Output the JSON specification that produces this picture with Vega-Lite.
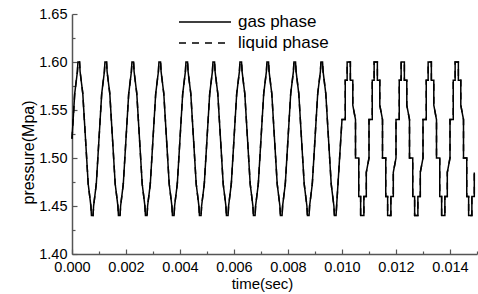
{
  "$schema": "https://vega.github.io/schema/vega-lite/v6.json",
  "width": 405,
  "height": 240,
  "autosize": {"type": "none"},
  "padding": {"left": 72, "top": 14, "right": 1, "bottom": 40},
  "background": "white",
  "config": {
    "view": {"stroke": null},
    "font": "Liberation Sans",
    "axis": {
      "grid": false,
      "domainColor": "#555555",
      "domainWidth": 1.5,
      "tickColor": "#555555",
      "tickWidth": 1.2,
      "labelFont": "Liberation Sans",
      "labelFontSize": 14.5,
      "labelColor": "black",
      "labelOverlap": false,
      "labelFlush": false,
      "titleFont": "Liberation Sans",
      "titleFontSize": 15,
      "titleFontWeight": "normal",
      "titleColor": "black"
    }
  },
  "data": {
    "values": [
      {"t":0,"p":1.52},{"t":0.0001,"p":1.567},{"t":0.0002,"p":1.59},{"t":0.00022,"p":1.6},{"t":0.00028,"p":1.6},{"t":0.0003,"p":1.59},{"t":0.0004,"p":1.567},{"t":0.0005,"p":1.52},{"t":0.0006,"p":1.473},{"t":0.0007,"p":1.45},{"t":0.00072,"p":1.44},{"t":0.00078,"p":1.44},{"t":0.0008,"p":1.45},{"t":0.0009,"p":1.473},
      {"t":0.001,"p":1.52},{"t":0.0011,"p":1.567},{"t":0.0012,"p":1.59},{"t":0.00122,"p":1.6},{"t":0.00128,"p":1.6},{"t":0.0013,"p":1.59},{"t":0.0014,"p":1.567},{"t":0.0015,"p":1.52},{"t":0.0016,"p":1.473},{"t":0.0017,"p":1.45},{"t":0.00172,"p":1.44},{"t":0.00178,"p":1.44},{"t":0.0018,"p":1.45},{"t":0.0019,"p":1.473},
      {"t":0.002,"p":1.52},{"t":0.0021,"p":1.567},{"t":0.0022,"p":1.59},{"t":0.00222,"p":1.6},{"t":0.00228,"p":1.6},{"t":0.0023,"p":1.59},{"t":0.0024,"p":1.567},{"t":0.0025,"p":1.52},{"t":0.0026,"p":1.473},{"t":0.0027,"p":1.45},{"t":0.00272,"p":1.44},{"t":0.00278,"p":1.44},{"t":0.0028,"p":1.45},{"t":0.0029,"p":1.473},
      {"t":0.003,"p":1.52},{"t":0.0031,"p":1.567},{"t":0.0032,"p":1.59},{"t":0.00322,"p":1.6},{"t":0.00328,"p":1.6},{"t":0.0033,"p":1.59},{"t":0.0034,"p":1.567},{"t":0.0035,"p":1.52},{"t":0.0036,"p":1.473},{"t":0.0037,"p":1.45},{"t":0.00372,"p":1.44},{"t":0.00378,"p":1.44},{"t":0.0038,"p":1.45},{"t":0.0039,"p":1.473},
      {"t":0.004,"p":1.52},{"t":0.0041,"p":1.567},{"t":0.0042,"p":1.59},{"t":0.00422,"p":1.6},{"t":0.00428,"p":1.6},{"t":0.0043,"p":1.59},{"t":0.0044,"p":1.567},{"t":0.0045,"p":1.52},{"t":0.0046,"p":1.473},{"t":0.0047,"p":1.45},{"t":0.00472,"p":1.44},{"t":0.00478,"p":1.44},{"t":0.0048,"p":1.45},{"t":0.0049,"p":1.473},
      {"t":0.005,"p":1.52},{"t":0.0051,"p":1.567},{"t":0.0052,"p":1.59},{"t":0.00522,"p":1.6},{"t":0.00528,"p":1.6},{"t":0.0053,"p":1.59},{"t":0.0054,"p":1.567},{"t":0.0055,"p":1.52},{"t":0.0056,"p":1.473},{"t":0.0057,"p":1.45},{"t":0.00572,"p":1.44},{"t":0.00578,"p":1.44},{"t":0.0058,"p":1.45},{"t":0.0059,"p":1.473},
      {"t":0.006,"p":1.52},{"t":0.0061,"p":1.567},{"t":0.0062,"p":1.59},{"t":0.00622,"p":1.6},{"t":0.00628,"p":1.6},{"t":0.0063,"p":1.59},{"t":0.0064,"p":1.567},{"t":0.0065,"p":1.52},{"t":0.0066,"p":1.473},{"t":0.0067,"p":1.45},{"t":0.00672,"p":1.44},{"t":0.00678,"p":1.44},{"t":0.0068,"p":1.45},{"t":0.0069,"p":1.473},
      {"t":0.007,"p":1.52},{"t":0.0071,"p":1.567},{"t":0.0072,"p":1.59},{"t":0.00722,"p":1.6},{"t":0.00728,"p":1.6},{"t":0.0073,"p":1.59},{"t":0.0074,"p":1.567},{"t":0.0075,"p":1.52},{"t":0.0076,"p":1.473},{"t":0.0077,"p":1.45},{"t":0.00772,"p":1.44},{"t":0.00778,"p":1.44},{"t":0.0078,"p":1.45},{"t":0.0079,"p":1.473},
      {"t":0.008,"p":1.52},{"t":0.0081,"p":1.567},{"t":0.0082,"p":1.59},{"t":0.00822,"p":1.6},{"t":0.00828,"p":1.6},{"t":0.0083,"p":1.59},{"t":0.0084,"p":1.567},{"t":0.0085,"p":1.52},{"t":0.0086,"p":1.473},{"t":0.0087,"p":1.45},{"t":0.00872,"p":1.44},{"t":0.00878,"p":1.44},{"t":0.0088,"p":1.45},{"t":0.0089,"p":1.473},
      {"t":0.009,"p":1.52},{"t":0.0091,"p":1.567},{"t":0.0092,"p":1.59},{"t":0.00922,"p":1.6},{"t":0.00928,"p":1.6},{"t":0.0093,"p":1.59},{"t":0.0094,"p":1.567},{"t":0.0095,"p":1.52},{"t":0.0096,"p":1.473},{"t":0.0097,"p":1.45},{"t":0.00972,"p":1.44},{"t":0.00978,"p":1.44},{"t":0.0098,"p":1.45},
      {"t":0.01,"p":1.54},{"t":0.01012,"p":1.54},{"t":0.01012,"p":1.581},{"t":0.01019,"p":1.581},{"t":0.01019,"p":1.6},{"t":0.01031,"p":1.6},{"t":0.01031,"p":1.581},{"t":0.0104,"p":1.581},{"t":0.0104,"p":1.555},{"t":0.0105,"p":1.54},{"t":0.0105,"p":1.5},{"t":0.01062,"p":1.5},{"t":0.01062,"p":1.46},{"t":0.01069,"p":1.46},{"t":0.01069,"p":1.44},{"t":0.01081,"p":1.44},{"t":0.01081,"p":1.46},{"t":0.0109,"p":1.46},{"t":0.0109,"p":1.485},{"t":0.011,"p":1.5},
      {"t":0.011,"p":1.54},{"t":0.01112,"p":1.54},{"t":0.01112,"p":1.581},{"t":0.01119,"p":1.581},{"t":0.01119,"p":1.6},{"t":0.01131,"p":1.6},{"t":0.01131,"p":1.581},{"t":0.0114,"p":1.581},{"t":0.0114,"p":1.555},{"t":0.0115,"p":1.54},{"t":0.0115,"p":1.5},{"t":0.01162,"p":1.5},{"t":0.01162,"p":1.46},{"t":0.01169,"p":1.46},{"t":0.01169,"p":1.44},{"t":0.01181,"p":1.44},{"t":0.01181,"p":1.46},{"t":0.0119,"p":1.46},{"t":0.0119,"p":1.485},{"t":0.012,"p":1.5},
      {"t":0.012,"p":1.54},{"t":0.01212,"p":1.54},{"t":0.01212,"p":1.581},{"t":0.01219,"p":1.581},{"t":0.01219,"p":1.6},{"t":0.01231,"p":1.6},{"t":0.01231,"p":1.581},{"t":0.0124,"p":1.581},{"t":0.0124,"p":1.555},{"t":0.0125,"p":1.54},{"t":0.0125,"p":1.5},{"t":0.01262,"p":1.5},{"t":0.01262,"p":1.46},{"t":0.01269,"p":1.46},{"t":0.01269,"p":1.44},{"t":0.01281,"p":1.44},{"t":0.01281,"p":1.46},{"t":0.0129,"p":1.46},{"t":0.0129,"p":1.485},{"t":0.013,"p":1.5},
      {"t":0.013,"p":1.54},{"t":0.01312,"p":1.54},{"t":0.01312,"p":1.581},{"t":0.01319,"p":1.581},{"t":0.01319,"p":1.6},{"t":0.01331,"p":1.6},{"t":0.01331,"p":1.581},{"t":0.0134,"p":1.581},{"t":0.0134,"p":1.555},{"t":0.0135,"p":1.54},{"t":0.0135,"p":1.5},{"t":0.01362,"p":1.5},{"t":0.01362,"p":1.46},{"t":0.01369,"p":1.46},{"t":0.01369,"p":1.44},{"t":0.01381,"p":1.44},{"t":0.01381,"p":1.46},{"t":0.0139,"p":1.46},{"t":0.0139,"p":1.485},{"t":0.014,"p":1.5},
      {"t":0.014,"p":1.54},{"t":0.01412,"p":1.54},{"t":0.01412,"p":1.581},{"t":0.01419,"p":1.581},{"t":0.01419,"p":1.6},{"t":0.01431,"p":1.6},{"t":0.01431,"p":1.581},{"t":0.0144,"p":1.581},{"t":0.0144,"p":1.555},{"t":0.0145,"p":1.54},{"t":0.0145,"p":1.5},{"t":0.01462,"p":1.5},{"t":0.01462,"p":1.46},{"t":0.01469,"p":1.46},{"t":0.01469,"p":1.44},{"t":0.01481,"p":1.44},{"t":0.01481,"p":1.46},{"t":0.0149,"p":1.46},{"t":0.0149,"p":1.485}
    ]
  },
  "encoding": {
    "x": {
      "field": "t", "type": "quantitative",
      "scale": {"domain": [0, 0.015], "nice": false, "zero": false},
      "axis": {
        "title": "time(sec)",
        "titleX": 190,
        "values": [0,0.001,0.002,0.003,0.004,0.005,0.006,0.007,0.008,0.009,0.01,0.011,0.012,0.013,0.014,0.015],
        "labelExpr": "round(datum.value*1000) % 2 == 0 ? format(datum.value, '.3f') : ''",
        "tickSize": {"condition": {"test": "round(datum.value*1000) % 2 == 0", "value": -5}, "value": -3},
        "labelPadding": 11,
        "titlePadding": 1
      }
    },
    "y": {
      "field": "p", "type": "quantitative",
      "scale": {"domain": [1.4, 1.65], "nice": false, "zero": false},
      "axis": {
        "title": "pressure(Mpa)",
        "titleY": 138,
        "titleFontSize": 16,
        "values": [1.4,1.425,1.45,1.475,1.5,1.525,1.55,1.575,1.6,1.625,1.65],
        "labelExpr": "round(datum.value*1000) % 50 == 0 ? format(datum.value, '.2f') : ''",
        "tickSize": {"condition": {"test": "round(datum.value*1000) % 50 == 0", "value": -5}, "value": -3},
        "labelPadding": 10,
        "titlePadding": 2
      }
    }
  },
  "layer": [
    {
      "mark": {"type": "line", "color": "black", "strokeWidth": 1.5},
      "encoding": {
        "order": {"value": null},
        "strokeDash": {
          "datum": "gas phase",
          "scale": {"domain": ["gas phase", "liquid phase"], "range": [[1, 0], [7, 6]]},
          "legend": {
            "title": null,
            "orient": "none",
            "legendX": 106,
            "legendY": 0,
            "symbolType": "stroke",
            "symbolSize": 2704,
            "symbolStrokeWidth": 1.3,
            "symbolStrokeColor": "black",
            "clipHeight": 16,
            "rowPadding": 4,
            "labelOffset": 6,
            "labelFont": "Liberation Sans",
            "labelFontSize": 17,
            "labelColor": "black"
          }
        }
      }
    },
    {
      "mark": {"type": "line", "color": "black", "strokeWidth": 1.5},
      "encoding": {
        "order": {"value": null},
        "strokeDash": {"datum": "liquid phase"}
      }
    }
  ]
}
